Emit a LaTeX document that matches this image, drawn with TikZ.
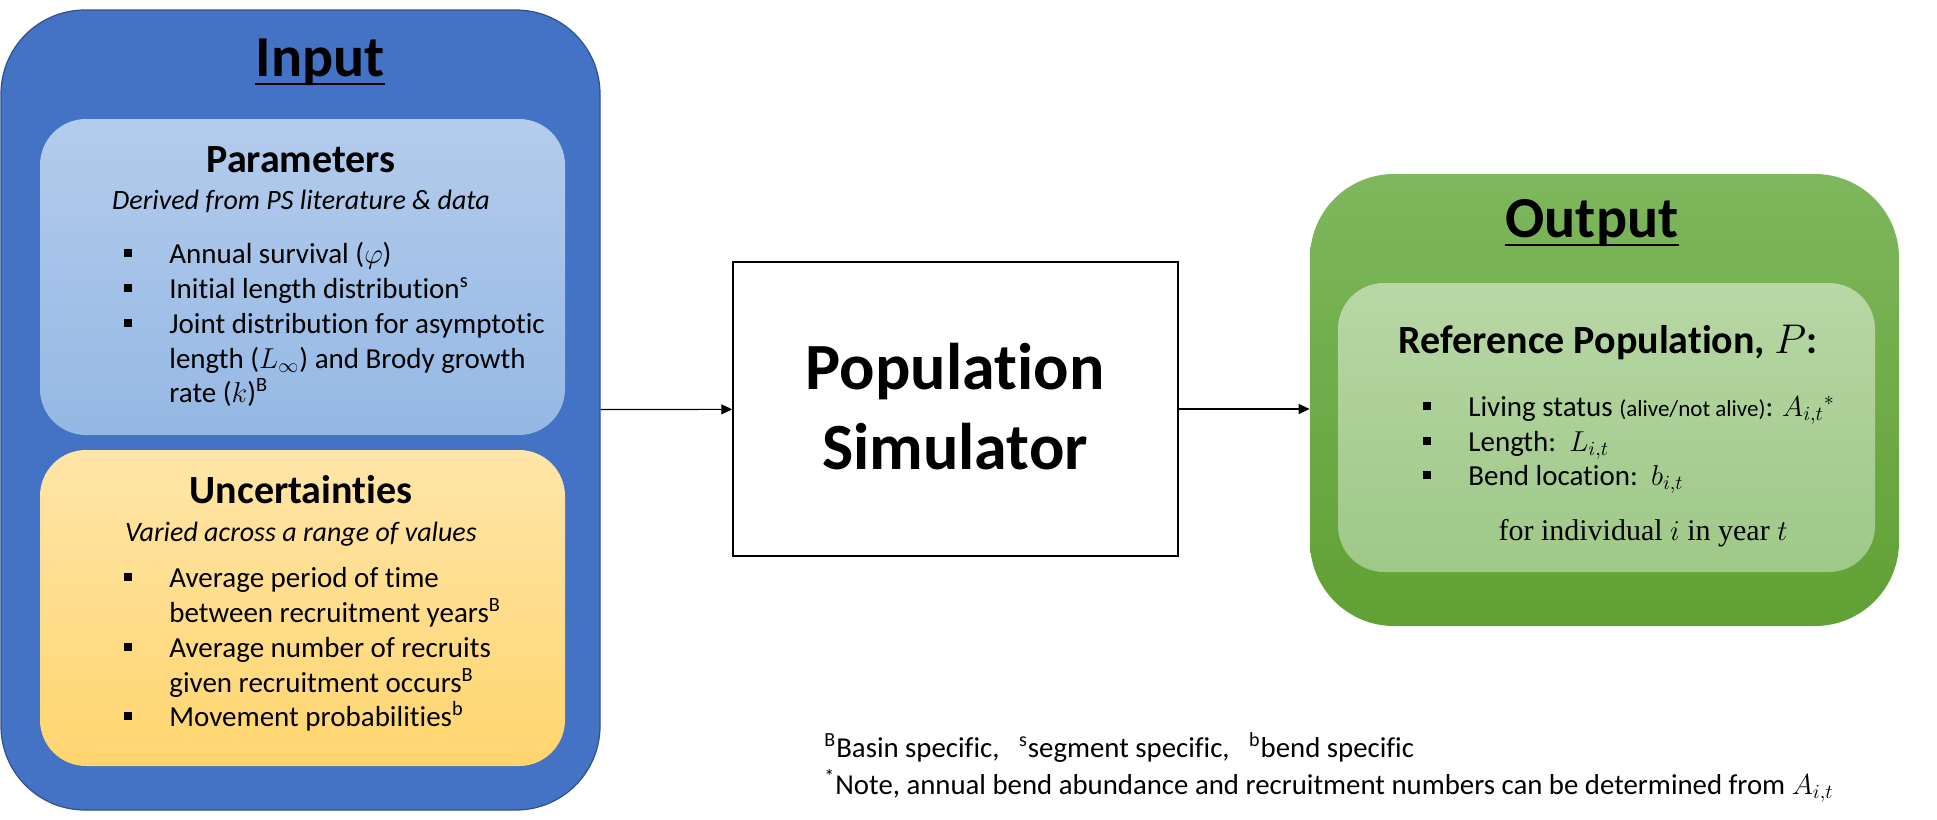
\documentclass[tikz,border=0pt]{standalone}
\usepackage{fontspec}
\setmainfont{Carlito}[Ligatures=NoCommon]
\newfontfamily\cambriafont{Liberation Serif}
\usepackage{xcolor}
\definecolor{inputBlue}{RGB}{68,114,196}
\definecolor{inputEdge}{RGB}{47,82,143}
\definecolor{paramTop}{RGB}{180,204,236}
\definecolor{paramBot}{RGB}{148,184,228}
\definecolor{uncTop}{RGB}{255,229,168}
\definecolor{uncBot}{RGB}{255,213,110}
\definecolor{outTop}{RGB}{126,183,93}
\definecolor{outBot}{RGB}{97,160,52}
\definecolor{popTop}{RGB}{184,215,165}
\definecolor{popBot}{RGB}{158,200,136}
\usepackage{amsmath,amssymb}
\usepackage{tikz}
\usetikzlibrary{arrows.meta,positioning,calc}
\tikzstyle{bigbox}=[rounded corners=42pt, inner sep=0pt]
\tikzstyle{inbox}=[rounded corners=23pt, inner sep=0pt]
\tikzstyle{heading}=[font=\fontsize{29}{35}\selectfont\bfseries, anchor=base, inner sep=0pt]
\tikzstyle{subhead}=[font=\fontsize{20}{24}\selectfont\bfseries, anchor=base, inner sep=0pt]
\tikzstyle{note}=[font=\fontsize{14}{17.5}\selectfont\itshape, anchor=base, inner sep=0pt]
\tikzstyle{item}=[font=\fontsize{14.5}{17.5}\selectfont, anchor=base west, inner sep=0pt]
\tikzstyle{bullet}=[fill=black, minimum size=3.8pt, inner sep=0pt]
\tikzstyle{uline}=[line width=1.3pt]
\tikzstyle{arrow}=[-{Triangle[length=5.5pt,width=5pt]}, line width=0.6pt]

\begin{document}
\begin{tikzpicture}[x=0.5pt, y=-0.5pt]
  \useasboundingbox (0,0) rectangle (1937,819);
  \node[bigbox, draw=inputEdge, line width=0.6pt, fill=inputBlue, minimum width=299.5pt, minimum height=400pt] (input) at (300.5,410) {};
  \node[inbox, top color=paramTop, bottom color=paramBot, minimum width=262.5pt, minimum height=158pt] (param) at (302.5,277) {};
  \node[inbox, top color=uncTop, bottom color=uncBot, minimum width=262.5pt, minimum height=158pt] (unc) at (302.5,608) {};
  \node[heading] (inputtitle) at (320,76) {Input};
  \draw[uline] ($(inputtitle.base west)+(0,8)$) -- ($(inputtitle.base east)+(0,8)$);
  \node[subhead] (paramtitle) at (301,172) {Parameters};
  \node[note] (paramnote) at (301,209) {Derived from PS literature \& data};
  \foreach \y/\txt [count=\i] in {263/{Annual survival ($\varphi$)},298/{Initial length distribution\textsuperscript{s}},333/{Joint distribution for asymptotic},368/{length ($L_\infty$) and Brody growth},402/{rate ($k$)\textsuperscript{B}}}{
    \node[item] (p\i) at (169,\y) {\txt};
  }
  \foreach \y [count=\i] in {263,298,333}{
    \node[bullet] (pb\i) at (128,\y-10) {};
  }
  \node[subhead] (unctitle) at (301,503) {Uncertainties};
  \node[note] (uncnote) at (301,541) {Varied across a range of values};
  \foreach \y/\txt [count=\i] in {587/{Average period of time},622/{between recruitment years\textsuperscript{B}},657/{Average number of recruits},692/{given recruitment occurs\textsuperscript{B}},726/{Movement probabilities\textsuperscript{b}}}{
    \node[item] (u\i) at (169,\y) {\txt};
  }
  \foreach \y [count=\i] in {587,657,726}{
    \node[bullet] (ub\i) at (128,\y-10) {};
  }
  \node[draw, line width=0.75pt, fill=white, minimum width=222.5pt, minimum height=147pt, inner sep=0pt] (sim) at (955.5,409) {};
  \node[font=\fontsize{33}{40}\selectfont\bfseries, anchor=base, inner sep=0pt] (simA) at (955,389) {Population};
  \node[font=\fontsize{33}{40}\selectfont\bfseries, anchor=base, inner sep=0pt] (simB) at (955,469) {Simulator};
  \node[bigbox, top color=outTop, bottom color=outBot, minimum width=294.5pt, minimum height=226pt] (output) at (1604.5,400) {};
  \node[inbox, top color=popTop, bottom color=popBot, minimum width=268.5pt, minimum height=144.5pt] (pop) at (1606.5,427.5) {};
  \node[heading] (outtitle) at (1592,237) {Output};
  \draw[uline] ($(outtitle.base west)+(0,8)$) -- ($(outtitle.base east)+(0,8)$);
  \node[subhead] (poptitle) at (1608,353) {Reference Population, $P$:};
  \node[item] (o1) at (1468,416) {Living status {\fontsize{11.5}{14}\selectfont(alive/not alive)}: $A_{i,t}{}^{*}$};
  \node[item] (o2) at (1468,451) {Length:\ \ $L_{i,t}$};
  \node[item] (o3) at (1468,485) {Bend location:\ \ $b_{i,t}$};
  \foreach \y [count=\i] in {416,451,485}{
    \node[bullet] (ob\i) at (1427,\y-10) {};
  }
  \node[font=\fontsize{15}{18}\selectfont\cambriafont, anchor=base, inner sep=0pt] (popnote) at (1643,540) {for individual $i$ in year $t$};
  \draw[arrow] (input) -- (sim);
  \draw[arrow] (sim.east) -- (sim.east -| output.west);
  \node[item, font=\fontsize{14.4}{17.5}\selectfont] (fn1) at (824,757) {\textsuperscript{B}Basin specific,\ \ \ \textsuperscript{s}segment specific,\ \ \ \textsuperscript{b}bend specific};
  \node[item, font=\fontsize{14.4}{17.5}\selectfont] (fn2) at (824,794) {\textsuperscript{*}Note, annual bend abundance and recruitment numbers can be determined from $A_{i,t}$};
\end{tikzpicture}
\end{document}
